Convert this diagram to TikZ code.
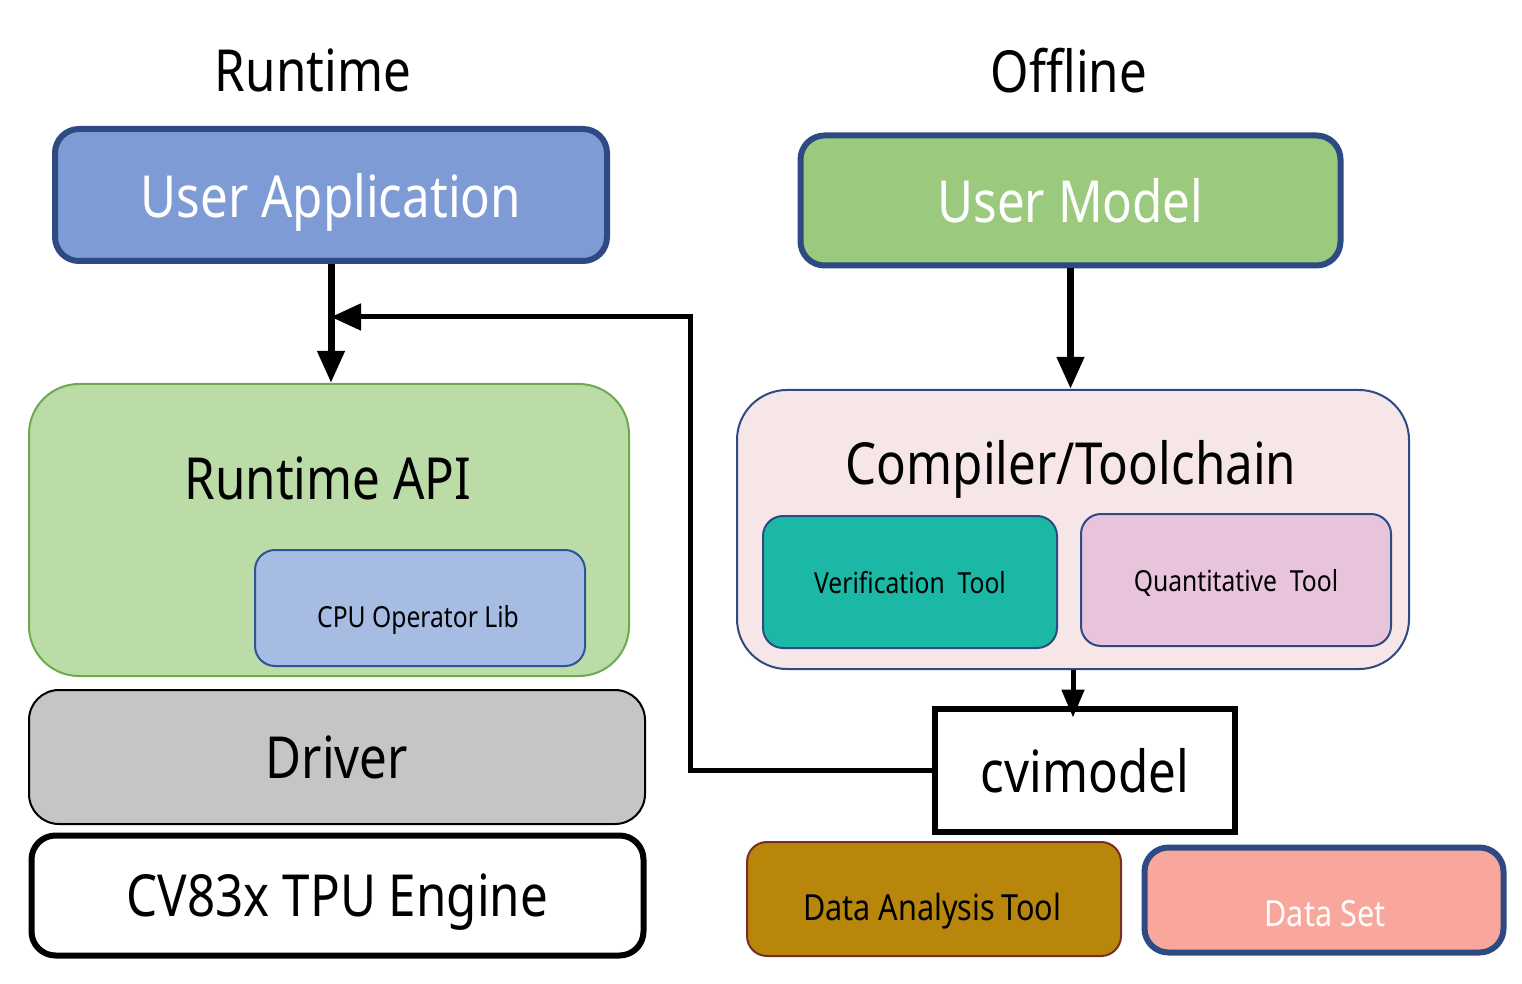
\documentclass[tikz,border=0pt]{standalone}
\usepackage{fontspec}
\setmainfont[FakeStretch=0.85]{Noto Sans}
\usepackage{tikz}
\usetikzlibrary{positioning, arrows.meta}

\definecolor{navyline}{HTML}{2E4A82}
\definecolor{appblue}{HTML}{7F9BD5}
\definecolor{modelgreen}{HTML}{9BCA7E}
\definecolor{apigreen}{HTML}{BBDCA7}
\definecolor{apiline}{HTML}{6FA84F}
\definecolor{cpublue}{HTML}{A6BCE3}
\definecolor{cpuline}{HTML}{2F5597}
\definecolor{drivergray}{HTML}{C6C4C5}
\definecolor{compink}{HTML}{F6E6E8}
\definecolor{verteal}{HTML}{1BB8A5}
\definecolor{quantpink}{HTML}{E8C3DC}
\definecolor{datagold}{HTML}{B8860B}
\definecolor{dataline}{HTML}{7B2C23}
\definecolor{setsalmon}{HTML}{F9A69C}

\begin{document}
\begin{tikzpicture}[x=0.5pt, y=-0.5pt,
  big text/.style={font=\fontsize{29}{32}\selectfont, text depth=0pt},
  small text/.style={font=\fontsize{14.5}{17}\selectfont, text depth=0pt},
  mid text/.style={font=\fontsize{18}{21}\selectfont, text depth=0pt},
  main box/.style={draw=navyline, line width=3pt, rounded corners=12pt, inner sep=0pt, text=white},
  layer box/.style={draw, line width=1pt, inner sep=0pt},
  tool box/.style={draw=navyline, line width=1pt, rounded corners=10pt, inner sep=0pt},
  flow/.style={line width=3.5pt, -{Triangle[length=16pt,width=13pt]}}]

\useasboundingbox (0,0) rectangle (1522,984);

% titles
\node[big text] (runtime) at (313,70) {Runtime};
\node[big text] (offline) at (1069,70) {Offline};

% runtime side
\node[main box, fill=appblue, minimum width=276pt, minimum height=66pt, big text] (ua) at (331,195) {User Application};
\node[layer box, draw=apiline, fill=apigreen, rounded corners=25pt, minimum width=300pt, minimum height=146pt] (api) at (329,530) {};
\node[big text] (api text) at (328,478) {Runtime API};
\node[tool box, draw=cpuline, fill=cpublue, minimum width=165pt, minimum height=58pt] (cpu) at (420,608) {};
\node[small text] (cpu text) at (418,616) {CPU Operator Lib};
\node[layer box, fill=drivergray, rounded corners=15pt, minimum width=308pt, minimum height=67pt, big text] (driver) at (337,757) {Driver};
\node[layer box, line width=3pt, fill=white, rounded corners=12pt, minimum width=306pt, minimum height=60pt, big text] (tpu) at (337.5,895.5) {CV83x TPU Engine};

% offline side
\node[main box, fill=modelgreen, minimum width=270pt, minimum height=65pt, big text] (um) at (1070.5,200.5) {User Model};
\node[layer box, draw=navyline, fill=compink, rounded corners=25pt, minimum width=336pt, minimum height=139.5pt] (comp) at (1073,529.5) {};
\node[big text] (comp text) at (1071,462) {Compiler/Toolchain};
\node[tool box, fill=verteal, minimum width=147pt, minimum height=66pt, small text] (verif) at (910,582) {Verification~~Tool};
\node[tool box, fill=quantpink, minimum width=155pt, minimum height=66pt, small text] (quant) at (1236,580) {Quantitative~~Tool};
\node[draw, line width=3pt, fill=white, inner sep=0pt, minimum width=150pt, minimum height=61.5pt, big text] (cvim) at (1085,770) {cvimodel};
\node[tool box, draw=dataline, fill=datagold, minimum width=187pt, minimum height=57pt] (dat) at (934,899) {};
\node[mid text] (dat text) at (932,907) {Data Analysis\,Tool};
\node[main box, fill=setsalmon, minimum width=179.5pt, minimum height=52.5pt] (dset) at (1324,900) {};
\node[mid text, text=white] (dset text) at (1325,913) {Data Set};

\coordinate (bend) at (690,317);
\coordinate (join) at (331,317);

\draw[flow] (ua.south) -- (ua.south |- api.north);
\draw[flow] (um.south) -- (um.south |- comp.north);
\draw[line width=2.5pt, -{Triangle[length=14pt,width=11pt]}] (comp.south) -- ([yshift=-6pt]comp.south |- cvim.north);
\draw[line width=2.5pt, -{Triangle[length=15pt,width=13pt]}] (cvim.west) -| (bend) -- (join);

\end{tikzpicture}
\end{document}
